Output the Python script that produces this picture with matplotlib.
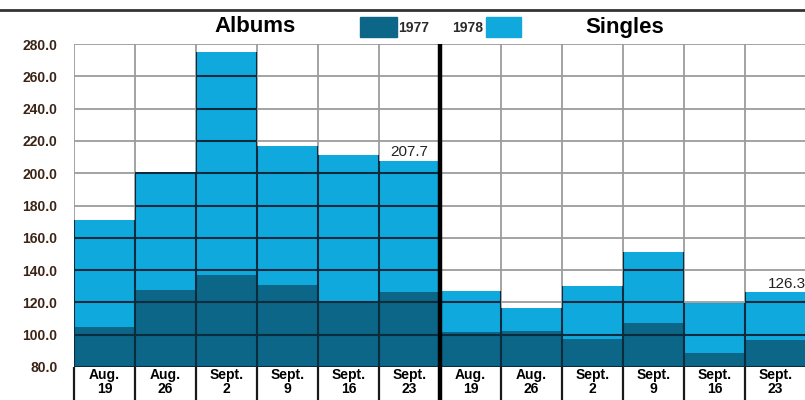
import matplotlib
matplotlib.use("Agg")
import matplotlib.pyplot as plt
from matplotlib.patches import Rectangle
from matplotlib.path import Path
from matplotlib.lines import Line2D

plt.rcParams['font.family'] = ['Liberation Sans', 'DejaVu Sans']

# weekly values, 1977 vs 1978
weeks = ["Aug.\n19", "Aug.\n26", "Sept.\n2", "Sept.\n9", "Sept.\n16", "Sept.\n23"]
albums_1977 = [104.5, 127.4, 137.0, 131.0, 120.0, 126.4]
albums_1978 = [171.0, 200.5, 275.0, 217.0, 211.0, 207.7]
singles_1977 = [101.6, 102.0, 97.5, 107.0, 88.6, 96.5]
singles_1978 = [127.2, 116.3, 130.3, 151.0, 119.6, 126.3]
yticks = [80, 100, 120, 140, 160, 180, 200, 220, 240, 260, 280]

light = '#10a9de'
dark = '#0b6688'
base = 80

fig = plt.figure(figsize=(8.05, 4.0), dpi=100)
ax = fig.add_axes([74/805, 33/400, 732/805, 323/400])

vals_77 = albums_1977 + singles_1977
vals_78 = albums_1978 + singles_1978
xs = list(range(len(vals_78)))
n = len(xs)

# gray grid under the bars
ax.hlines(yticks, 0, n, color='#9c9c9c', lw=1.3, zorder=1)
ax.vlines(range(n + 1), base, yticks[-1], color='#9c9c9c', lw=1.3, zorder=1)

b78 = ax.bar(xs, [v - base for v in vals_78], bottom=base, width=1, align='edge',
             color=light, zorder=2)
ax.bar(xs, [v - base for v in vals_77], bottom=base, width=1, align='edge',
       color=dark, zorder=3)

# dark grid lines show on top of the coloured area only
clip = Path.make_compound_path(*[r.get_path().transformed(r.get_patch_transform()) for r in b78])
h = ax.hlines(yticks, 0, n, color='#0c2c3d', lw=1.5, zorder=4)
v = ax.vlines(range(n + 1), base, yticks[-1], color='#0c2c3d', lw=1.5, zorder=4)
h.set_clip_path(clip, ax.transData)
v.set_clip_path(clip, ax.transData)

# separators under the axis and the thick albums/singles divider
ax.vlines(range(n + 1), -0.11, 0, transform=ax.get_xaxis_transform(),
          color='#1a1a1a', lw=1.6, clip_on=False)
ax.vlines([6], -0.11, 1.0, transform=ax.get_xaxis_transform(),
          color='black', lw=3.2, clip_on=False, zorder=6)

ax.set_xlim(0, n)
ax.set_ylim(base, yticks[-1])
for s in ax.spines.values():
    s.set_visible(False)
ax.set_yticks(yticks)
ax.set_yticklabels([f"{t:.1f}" for t in yticks], fontsize=10, fontweight='bold', color='#3b2416')
ax.set_xticks([x + 0.5 for x in xs])
ax.set_xticklabels(weeks + weeks, fontsize=10, fontweight='bold', linespacing=0.95)
ax.tick_params(axis='both', length=0)
ax.tick_params(axis='y', pad=12)
ax.tick_params(axis='x', pad=1)

ax.text(5.5, albums_1978[-1] + 1, f"{albums_1978[-1]}", ha='center', va='bottom',
        fontsize=11, color='#222222', zorder=7)
ax.text(11.68, singles_1978[-1] + 1, f"{singles_1978[-1]}", ha='center', va='bottom',
        fontsize=11, color='#222222', zorder=7, clip_on=False)

# top rule, titles and legend
fig.add_artist(Line2D([0, 1], [1 - 10/400, 1 - 10/400], color='#333333', lw=2))
fig.text(255/805, 1 - 27/400, "Albums", ha='center', va='center', fontsize=16, fontweight='bold')
fig.text(625/805, 1 - 27/400, "Singles", ha='center', va='center', fontsize=16, fontweight='bold')
fig.add_artist(Rectangle((360/805, 1 - 37/400), 37/805, 20/400, color=dark, transform=fig.transFigure))
fig.add_artist(Rectangle((486/805, 1 - 37/400), 35/805, 20/400, color=light, transform=fig.transFigure))
fig.text(398/805, 1 - 28/400, "1977", ha='left', va='center', fontsize=10, fontweight='bold', color='#2a2a2a')
fig.text(483/805, 1 - 28/400, "1978", ha='right', va='center', fontsize=10, fontweight='bold', color='#2a2a2a')

fig.savefig("out.png", dpi=100)
